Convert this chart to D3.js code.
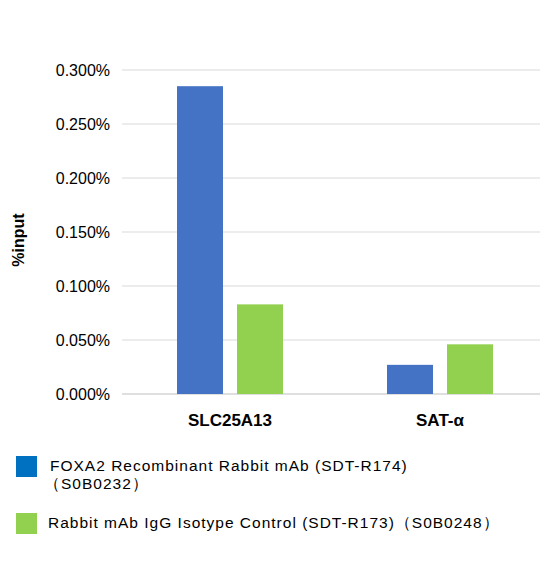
<!DOCTYPE html>
<html><head><meta charset="utf-8">
<script src="https://cdn.jsdelivr.net/npm/d3@7"></script>
<style>body{margin:0;background:#fff}</style></head>
<body><svg id="c" width="554" height="565"></svg>
<script>
const categories = ["SLC25A13", "SAT-α"];
const seriesNames = ["FOXA2 Recombinant Rabbit mAb (SDT-R174)", "Rabbit mAb IgG Isotype Control (SDT-R173)（S0B0248）"];
const foxa2 = [0.285, 0.027];
const igg = [0.083, 0.046];
const yTicks = [0, 0.05, 0.1, 0.15, 0.2, 0.25, 0.3];

const svg = d3.select("#c");
const font = "Liberation Sans, Arial, sans-serif";
const y = d3.scaleLinear().domain([0, 0.3]).range([394, 70]);
const x0 = d3.scaleBand().domain(categories).range([125, 545]);
const x1 = d3.scaleBand().domain([0, 1]).range([0, 106]).paddingInner(14 / 60);

svg.append("g").selectAll("line").data(yTicks).join("line")
  .attr("x1", 122).attr("x2", 540).attr("y1", d => y(d)).attr("y2", d => y(d))
  .attr("stroke", d => d === 0 ? "#bfbfbf" : "#d9d9d9").attr("stroke-width", 1);
svg.append("g").selectAll("text").data(yTicks).join("text")
  .attr("x", 110).attr("y", d => y(d) + 6).attr("text-anchor", "end")
  .attr("font-family", font).attr("font-size", 16).attr("fill", "#000")
  .text(d => d.toFixed(3) + "%");

const cols = ["#4472C4", "#92D050"];
[foxa2, igg].forEach((s, i) => {
  svg.append("g").selectAll("rect").data(s).join("rect")
    .attr("x", (d, j) => x0(categories[j]) + (x0.bandwidth() - 106) / 2 + x1(i))
    .attr("width", x1.bandwidth())
    .attr("y", d => y(d)).attr("height", d => y(0) - y(d)).attr("fill", cols[i]);
});

svg.append("g").selectAll("text").data(categories).join("text")
  .attr("x", d => x0(d) + x0.bandwidth() / 2).attr("y", 426).attr("text-anchor", "middle")
  .attr("font-family", font).attr("font-size", 17).attr("font-weight", "bold").text(d => d);

svg.append("text").attr("transform", "translate(24,240) rotate(-90)").attr("text-anchor", "middle")
  .attr("font-family", font).attr("font-size", 16).attr("font-weight", "bold").text("%input");

const lg = [["#0070C0", 456], ["#92D050", 513]];
lg.forEach(([c, yy]) => svg.append("rect").attr("x", 16).attr("y", yy).attr("width", 21).attr("height", 21).attr("fill", c));
const lt = (x, yy, t) => svg.append("text").attr("x", x).attr("y", yy).attr("font-family", font)
  .attr("font-size", 15.5).attr("letter-spacing", 1).text(t);
lt(50, 471, seriesNames[0]);
lt(44, 489, "（S0B0232）");
lt(48, 528, seriesNames[1]);
</script></body></html>
